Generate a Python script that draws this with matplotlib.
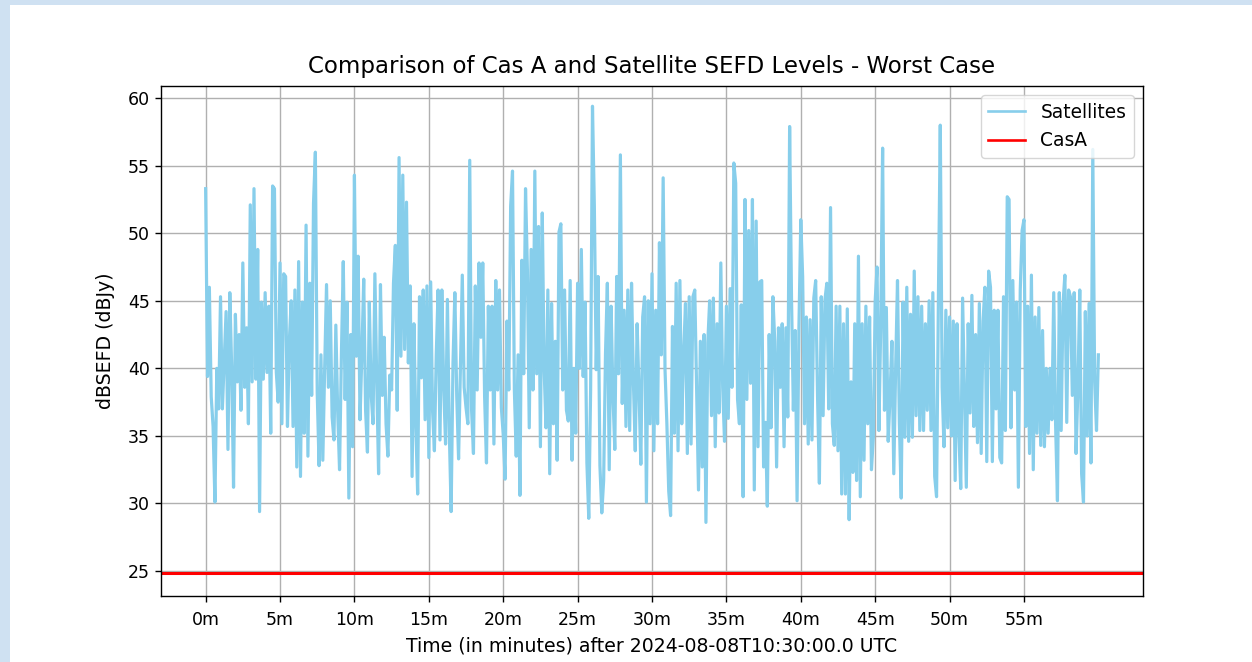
import matplotlib
matplotlib.use("Agg")
import matplotlib.pyplot as plt
import numpy as np

# Satellite SEFD (dB) at 0.125 minute steps from 0 to 60 min
sefd_sat = [
    53.3, 39.4, 46.0, 37.9, 35.7, 30.1, 40.0, 37.0, 45.3, 37.0,
    40.5, 44.2, 34.0, 45.6, 40.0, 31.2, 44.0, 39.0, 42.5, 36.9,
    47.8, 38.6, 43.0, 35.9, 52.1, 39.0, 53.3, 39.2, 48.8, 29.4,
    44.9, 39.2, 45.6, 39.7, 44.6, 35.2, 53.5, 53.3, 39.7, 37.5,
    47.8, 35.9, 47.0, 46.8, 35.7, 42.0, 45.0, 35.7, 45.8, 32.7,
    47.9, 32.0, 44.9, 35.2, 50.6, 33.5, 46.3, 38.0, 52.2, 56.0,
    38.2, 32.8, 41.0, 33.2, 40.0, 46.2, 38.6, 45.0, 36.4, 34.7,
    43.2, 36.8, 32.5, 41.0, 47.9, 37.7, 44.9, 30.4, 42.5, 34.2,
    54.3, 40.9, 48.3, 36.2, 41.0, 46.6, 36.9, 33.8, 44.9, 38.1,
    35.9, 47.0, 39.0, 32.2, 46.2, 38.0, 42.3, 35.9, 33.5, 39.5,
    38.4, 46.3, 49.1, 36.9, 55.6, 40.9, 54.3, 41.4, 52.3, 40.4,
    46.1, 32.0, 43.3, 35.9, 30.7, 45.3, 39.3, 45.8, 36.2, 46.1,
    33.4, 46.4, 36.9, 33.9, 41.0, 45.8, 34.7, 45.8,
    38.6, 34.4, 45.1, 35.4, 29.4, 40.4, 45.6, 38.0, 33.3, 40.0,
    46.9, 38.6, 37.1, 35.9, 55.4, 36.9, 33.7, 46.1, 38.4, 47.8,
    42.3, 47.8, 37.9, 33.0, 44.6, 38.4, 44.6, 34.4, 46.5, 38.4,
    45.8, 37.1, 35.1, 31.8, 43.5, 38.4, 52.0, 54.6, 38.4, 33.5,
    41.0, 30.6, 48.0, 39.6, 53.3, 47.3, 35.6, 48.8, 38.4, 54.6,
    39.6, 50.5, 34.2, 51.5, 40.0, 35.6, 45.8, 32.2, 44.8, 35.9,
    42.0, 33.2, 50.1, 50.7, 38.4, 45.8, 36.9,
    36.1, 46.5, 33.2, 40.0, 35.2, 46.3, 40.0, 48.8, 39.4, 44.9,
    33.0, 28.9, 38.4, 59.4, 52.0, 39.9, 46.8, 32.8, 29.3, 31.7,
    41.1, 46.3, 32.5, 44.6, 38.0, 34.0, 46.8, 39.6, 55.8, 37.4,
    44.3, 35.7, 45.8, 35.4, 46.3, 39.0, 33.9, 43.3, 38.4, 32.9,
    43.8, 45.3, 30.1, 45.0, 35.9, 47.0, 33.9, 44.3, 35.9, 49.3,
    41.0, 54.1, 39.9, 35.9, 30.9, 29.1, 43.1, 35.2, 46.3, 33.9,
    46.5, 35.9, 41.0, 44.8, 33.7, 45.3, 34.4, 45.3,
    45.8, 38.6, 31.0, 42.0, 32.7, 42.5, 28.6, 41.9, 45.0, 36.5,
    45.2, 34.2, 43.3, 36.7, 47.8, 38.6, 34.6, 44.6, 36.3, 45.9,
    38.6, 55.2, 53.7, 37.7, 35.9, 44.7, 30.5, 52.5, 37.7, 50.2,
    38.9, 52.5, 31.0, 50.9, 34.2, 46.4, 46.5, 32.7, 36.0, 29.8,
    42.5, 35.6, 45.3, 42.0, 32.7, 43.0, 38.6, 43.3, 34.2, 43.0,
    36.4, 57.9, 45.3, 36.9, 42.8, 30.2, 43.0, 51.0, 46.8, 35.9,
    43.8, 34.4, 43.6, 34.7, 45.2, 46.5, 38.0,
    31.5, 45.3, 36.5, 45.1, 46.3, 37.0, 51.9, 35.9, 34.3, 44.6,
    33.9, 44.6, 30.7, 43.3, 30.7, 44.4, 28.8, 39.0, 32.3, 43.3,
    31.7, 48.3, 30.5, 43.3, 33.2, 44.6, 35.9, 43.8, 32.5, 34.9,
    45.0, 47.5, 35.4, 43.3, 56.3, 36.9, 44.5, 34.6, 38.0, 42.0,
    32.2, 40.0, 46.5, 36.0, 30.4, 44.9, 34.9, 46.0, 34.6, 44.0,
    34.9, 47.2, 36.5, 45.3, 35.4, 44.6, 35.4, 43.3, 36.9, 45.0,
    35.4, 45.6, 32.0, 30.5, 45.3, 58.0, 38.6,
    34.2, 44.3, 35.6, 43.8, 35.0, 43.5, 31.7, 43.3, 35.2, 31.1,
    45.2, 38.0, 31.2, 43.3, 36.7, 45.4, 35.7, 42.5, 34.5, 44.8,
    33.7, 43.5, 46.0, 33.1, 47.2, 46.0, 33.1, 44.3, 37.0, 44.3,
    33.4, 33.0, 45.3, 35.4, 52.7, 52.5, 35.6, 46.5, 38.4, 44.9,
    31.2, 45.8, 50.2, 51.0, 35.7, 44.6, 33.7, 46.9, 32.5, 43.8,
    35.2, 44.5, 34.3, 42.8, 34.2, 40.0, 35.2, 40.0, 36.2, 45.6,
    35.9, 30.2, 45.6, 35.4, 44.8, 46.9, 36.0, 45.8,
    45.3, 38.0, 45.6, 33.7, 38.5, 45.8, 32.2, 30.1, 44.2, 35.0,
    44.8, 33.0, 56.2, 39.0, 35.4, 41.0,
]
casa_sefd = 24.85

minutes = np.linspace(0, 60, len(sefd_sat))
tick_minutes = [0, 5, 10, 15, 20, 25, 30, 35, 40, 45, 50, 55]
tick_labels = [f"{m}m" for m in tick_minutes]

fig = plt.figure(figsize=(12.52, 6.62), dpi=100)
fig.patch.set_facecolor('#cfe1f2')
# white page area of the screenshot
fig.patches.append(plt.Rectangle((10 / 1252, 0), 1, 657 / 662, transform=fig.transFigure,
                                 facecolor='white', edgecolor='none', zorder=-1))

ax = fig.add_axes([161 / 1252, 66 / 662, 982 / 1252, 510 / 662])
ax.plot(minutes, sefd_sat, color='skyblue', lw=2.3, label='Satellites')
ax.axhline(casa_sefd, color='red', lw=2.2, label='CasA')

ax.set_xlim(-3, 63)
ax.set_ylim(23.15, 60.9)
ax.set_xticks(tick_minutes)
ax.set_xticklabels(tick_labels)
ax.tick_params(labelsize=12.5, length=4.5, width=1)
ax.tick_params(axis='x', pad=6)
ax.grid(True, color='#b0b0b0', lw=1.0)
for s in ax.spines.values():
    s.set_linewidth(1.0)

ax.set_title('Comparison of Cas A and Satellite SEFD Levels - Worst Case', fontsize=16.5, pad=9)
ax.set_xlabel('Time (in minutes) after 2024-08-08T10:30:00.0 UTC', fontsize=13.6, labelpad=6)
ax.set_ylabel('dBSEFD (dBJy)', fontsize=13.6, labelpad=9)
leg = ax.legend(loc='upper right', fontsize=13.4)
for h in leg.get_lines():
    h.set_linewidth(1.9)

plt.savefig('out.png', dpi=100, facecolor=fig.get_facecolor())
